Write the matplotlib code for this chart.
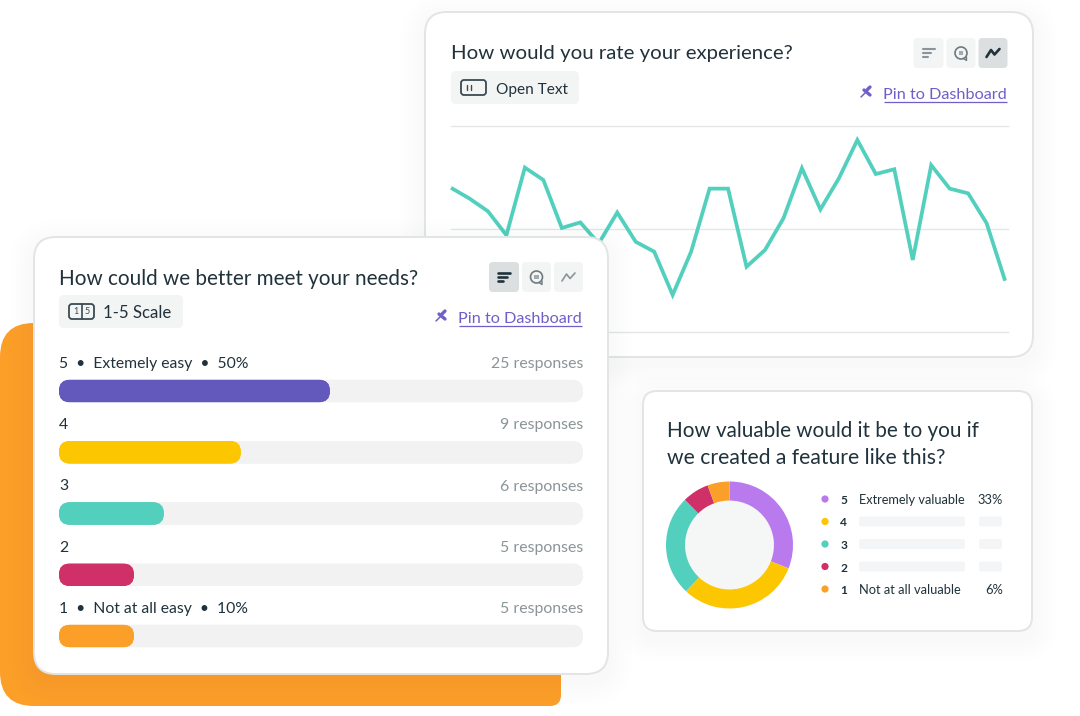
import matplotlib
matplotlib.use("Agg")
import matplotlib.pyplot as plt
from matplotlib.patches import FancyBboxPatch, Circle
from matplotlib.font_manager import FontProperties
from matplotlib.textpath import TextPath

# ---------- data ----------
line_title = "How would you rate your experience?"
line_values = [70, 64.8, 58.6, 47, 79.8, 73.8, 50.5, 53.2, 43, 58, 43.8, 39, 18, 39, 69.6, 69.6,
               31.7, 39.8, 55.2, 79.5, 59.5, 74.6, 93.2, 76.7, 79, 35, 81, 69.6, 67.3, 52.8, 24.9]
line_grid = [0, 50, 100]

bar_title = "How could we better meet your needs?"
bar_labels = ["5  •  Extemely easy  •  50%", "4", "3", "2", "1  •  Not at all easy  •  10%"]
bar_fill = [51.7, 34.7, 20, 14.3, 14.3]
bar_responses = ["25 responses", "9 responses", "6 responses", "5 responses", "5 responses"]
bar_colors = ["#6358bb", "#fcc600", "#52d0bd", "#cf3068", "#fc9f28"]

donut_title = ["How valuable would it be to you if", "we created a feature like this?"]
donut_values = [31, 31, 25.6, 6.8, 5.6]
donut_colors = ["#b97aee", "#fcc600", "#52d0bd", "#cf3068", "#fc9f28"]
donut_ranks = ["5", "4", "3", "2", "1"]
donut_names = ["Extremely valuable", None, None, None, "Not at all valuable"]
donut_pcts = ["33%", None, None, None, "6%"]

# ---------- helpers ----------
W, H = 1080, 716
FONT = "Lato"
INK = "#20323b"
GREY = "#8b9598"
LINK = "#6f5fcb"
CHIP = "#f3f4f4"
ACTIVE = "#dcdfdf"

fig = plt.figure(figsize=(W / 100, H / 100), dpi=100, facecolor="white")


def px_axes(x0, y0, x1, y1, z):
    ax = fig.add_axes([x0 / W, 1 - y1 / H, (x1 - x0) / W, (y1 - y0) / H], zorder=z)
    ax.patch.set_alpha(0)
    return ax


def canvas(z):
    ax = px_axes(0, 0, W, H, z)
    ax.set_xlim(0, W)
    ax.set_ylim(H, 0)
    ax.axis("off")
    return ax


def rbox(ax, x0, y0, x1, y1, r, **kw):
    kw.setdefault("linewidth", 0)
    p = FancyBboxPatch((x0 + r, y0 + r), x1 - x0 - 2 * r, y1 - y0 - 2 * r,
                       boxstyle=f"round,pad={r},rounding_size={r}", **kw)
    ax.add_patch(p)
    return p


def card(ax, x0, y0, x1, y1, r):
    for g in range(24, 0, -4):
        rbox(ax, x0 - g, y0 - g + 7, x1 + g, y1 + g + 7, r + g, facecolor="#2a3b45", alpha=0.0045)
    rbox(ax, x0, y0, x1, y1, r, facecolor="white", edgecolor="#e2e5e5", linewidth=1.4)


def txt(ax, x, y, s, width=None, color=INK, ha="left", weight="normal", size=None):
    if size is None:
        fp = FontProperties(family=FONT, weight=weight)
        w = TextPath((0, 0), s, size=1, prop=fp).get_extents().width
        size = 0.988 * width / w * 72 / 100
    ax.text(x, y, s, fontfamily=FONT, fontweight=weight, fontsize=size, color=color, ha=ha, va="baseline")


def seg(ax, xs, ys, color, lw=1.3, cap="round"):
    ax.plot(xs, ys, color=color, lw=lw, solid_capstyle=cap, solid_joinstyle="round")


def icon_bars(ax, cx, cy, c, lw):
    seg(ax, [cx - 6, cx + 6], [cy - 4, cy - 4], c, lw)
    seg(ax, [cx - 6, cx + 2.5], [cy, cy], c, lw)
    seg(ax, [cx - 6, cx - 1], [cy + 4, cy + 4], c, lw)


def icon_chat(ax, cx, cy, c):
    ax.add_patch(Circle((cx, cy), 6, facecolor="none", edgecolor=c, lw=1.2))
    ax.add_patch(plt.Rectangle((cx - 2.2, cy - 2.2), 4.4, 4.4, facecolor=c, alpha=0.6, lw=0))
    seg(ax, [cx + 2.5, cx + 5.5, cx + 5.5], [cy + 5.5, cy + 7.5, cy + 4], c, 1.0)


def icon_trend(ax, cx, cy, c, lw):
    seg(ax, [cx - 6.5, cx - 2, cx + 1.5, cx + 6.5], [cy + 4, cy - 3, cy + 1.5, cy - 4], c, lw)


def buttons(ax, x0, y0, active):
    h = 30
    slots = [(x0, x0 + 30), (x0 + 33, x0 + 62), (x0 + 65, x0 + 94)]
    for i, (a, b) in enumerate(slots):
        rbox(ax, a, y0, b, y0 + h, 4, facecolor=ACTIVE if i == active else CHIP)
    cy = y0 + h / 2
    icon_bars(ax, x0 + 15, cy, "#20323b" if active == 0 else "#8b9598", 1.9 if active == 0 else 1.5)
    icon_chat(ax, x0 + 47.5, cy, "#6f7b80")
    icon_trend(ax, x0 + 79.5, cy, "#20323b" if active == 2 else "#8b9598", 1.9 if active == 2 else 1.2)


def pin_link(ax, x_right, y):
    txt(ax, x_right, y, "Pin to Dashboard", 123, color=LINK, ha="right")
    seg(ax, [x_right - 123, x_right], [y + 3.2, y + 3.2], LINK, 0.9, "butt")
    px = x_right - 141
    py = y - 7
    seg(ax, [px - 5, px + 1], [py + 5, py - 1], LINK, 1.1)
    seg(ax, [px - 2, px + 4], [py - 2, py + 3], LINK, 2.4)
    seg(ax, [px + 1, px + 4], [py - 2, py - 5], LINK, 2.4)


# ---------- back layer ----------
back = canvas(0)
rbox(back, 0, 323, 300, 706, 34, facecolor="#fc9f28")
rbox(back, 100, 420, 561, 706, 11, facecolor="#fc9f28")
card(back, 425, 12, 1033, 357, 22)
txt(back, 451, 59, line_title, 343)
rbox(back, 451, 71, 579, 104, 5, facecolor=CHIP)
rbox(back, 461, 80, 486, 95, 3, facecolor="none", edgecolor="#3b4b53", linewidth=1.3)
seg(back, [467, 467], [84.5, 90], "#3b4b53", 1.0)
seg(back, [470.5, 470.5], [84.5, 90], "#3b4b53", 1.0)
txt(back, 496, 94, "Open Text", 72)
buttons(back, 913.5, 38, 2)
pin_link(back, 1007, 99)

# ---------- line chart ----------
lax = px_axes(451, 126, 1008, 332, 1)
lax.set_xlim(0, (1008 - 451) / 18.47)
lax.set_ylim(0, 100)
lax.axis("off")
for g in line_grid:
    lax.axhline(g, color="#e3e6e6", lw=1, zorder=1, clip_on=False)
lax.plot(range(len(line_values)), line_values, color="#52d0bd", lw=2.7, solid_joinstyle="miter",
         solid_capstyle="butt", zorder=2, clip_on=False)

# ---------- front layer ----------
front = canvas(2)
card(front, 34, 237, 608, 674, 22)
txt(front, 59, 285, bar_title, 360)
rbox(front, 59, 295, 183, 328, 5, facecolor=CHIP)
rbox(front, 69, 304, 94, 319, 3, facecolor="none", edgecolor="#3b4b53", linewidth=1.3)
seg(front, [81.5, 81.5], [304, 319], "#3b4b53", 1.2)
front.text(75.5, 311.5, "1", fontsize=6.5, color="#3b4b53", ha="center", va="center", fontfamily=FONT)
front.text(87.5, 311.5, "5", fontsize=6.5, color="#3b4b53", ha="center", va="center", fontfamily=FONT)
txt(front, 103, 318, "1-5 Scale", 67)
buttons(front, 489, 262, 0)
pin_link(front, 582, 323)

row_y = [368 + 61.25 * i for i in range(5)]
for y, lab, resp in zip(row_y, bar_labels, bar_responses):
    txt(front, 59, y, lab, size=11.3)
    txt(front, 583, y, resp, size=11.4, color=GREY, ha="right")

card(front, 643, 391, 1032, 631, 14)
txt(front, 667, 437, donut_title[0], 312)
txt(front, 667, 464, donut_title[1], 280)

leg_y = [500, 522.5, 545, 567.5, 590]
for y, color, rank, name, pct in zip(leg_y, donut_colors, donut_ranks, donut_names, donut_pcts):
    front.add_patch(Circle((825, y - 1), 3.6, facecolor=color, lw=0))
    txt(front, 847, y + 4, rank, size=8.6, weight="bold", ha="right")
    if name:
        txt(front, 859, y + 4, name, 106 if rank == "5" else 102)
        txt(front, 1003, y + 4, pct, size=9.3, ha="right")
    else:
        rbox(front, 859, y - 6, 965, y + 4, 2, facecolor="#f3f5f6")
        rbox(front, 979, y - 6, 1002, y + 4, 2, facecolor="#f3f5f6")

# ---------- bars ----------
bax = px_axes(59, 360, 583, 660, 3)
bax.set_xlim(0, 100)
bax.set_ylim((660 - 391) / 61.25, (360 - 391) / 61.25)
bax.axis("off")
rows = list(range(len(bar_fill)))
bar_h = 22.5 / 61.25
rx, ry = 11 / 5.24, 11 / 61.25


def rounded(ax, bars, z):
    for b in bars:
        shape = FancyBboxPatch((b.get_x() + rx, b.get_y() + ry), b.get_width() - 2 * rx, b.get_height() - 2 * ry,
                               boxstyle=f"round,pad={rx},rounding_size={rx}", mutation_aspect=ry / rx,
                               facecolor=b.get_facecolor(), linewidth=0, transform=ax.transData, zorder=z)
        ax.add_patch(shape)
        b.set_clip_path(shape)


rounded(bax, bax.barh(rows, [100] * len(rows), height=bar_h, color="#f2f2f2", zorder=1), 1)
rounded(bax, bax.barh(rows, bar_fill, height=bar_h, color=bar_colors, zorder=2), 2)

# ---------- donut ----------
dax = px_axes(666, 481.5, 793, 608.5, 3)
dax.pie(donut_values, colors=donut_colors, startangle=90, counterclock=False, radius=1,
        wedgeprops=dict(width=0.3, linewidth=0))
dax.set_xlim(-1.0, 1.0)
dax.set_ylim(-1.0, 1.0)
dax.add_patch(Circle((0, 0), 0.7, facecolor="#f5f6f6", lw=0, zorder=0))

fig.savefig("out.png", dpi=100)
